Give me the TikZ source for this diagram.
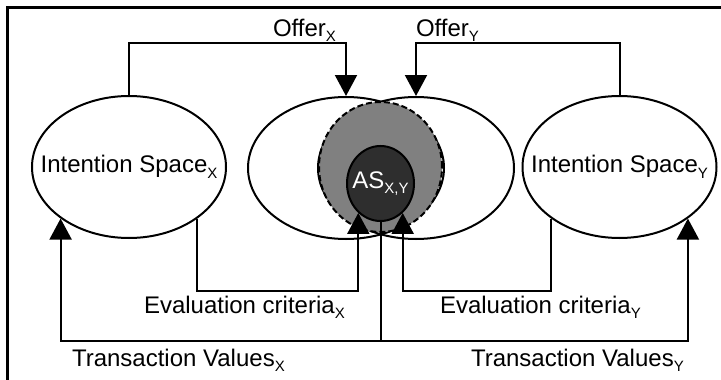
\documentclass[tikz,border=0pt]{standalone}
\usepackage{fontspec}
\setmainfont{Liberation Sans}
\usetikzlibrary{arrows.meta,shapes.geometric}
\definecolor{asfill}{HTML}{2E2E2E}
\definecolor{agfill}{HTML}{808080}
% small index letters set below the baseline
\newcommand{\idx}[1]{\raisebox{-0.24em}{\fontsize{15}{15}\selectfont #1}}

\begin{document}
\begin{tikzpicture}[x=1pt,y=1pt,line width=2pt,
    every node/.style={font=\fontsize{24}{28}\selectfont},
    space/.style={draw,ellipse,inner sep=0pt,minimum width=194pt,minimum height=142pt},
    lbl/.style={anchor=base west,inner sep=0pt},
    arr/.style={-{Triangle[length=21pt,width=22pt]}}]
  \useasboundingbox (0,0) rectangle (721,-380);
  \draw[line width=3pt] (7,-380) -- (7,-7) -- (721,-7);

  % the four spaces
  \node[space] (isx) at (129,-167) {};
  \node[space] (isy) at (619.5,-167) {};
  \node[space,minimum width=196pt] (mx) at (346,-168) {};
  \node[space,minimum width=196pt] (my) at (416,-168) {};
  \node[inner sep=0pt] (isxt) at (isx) {Intention Space\idx{X}};
  \node[inner sep=0pt] (isyt) at (isy) {Intention Space\idx{Y}};

  % agreement area on top
  \node[draw,ellipse,fill=agfill,dash pattern=on 6pt off 3pt,inner sep=0pt,
        minimum width=123pt,minimum height=130pt] (ag) at (380.5,-167) {};
  \node[draw,ellipse,fill=asfill,inner sep=0pt,
        minimum width=67pt,minimum height=75pt] (as) at (380.5,-183.5) {};
  \node[text=white,inner sep=0pt] (ast) at (as) {AS\idx{X,Y}};

  % labels
  \node[lbl] (ofx) at (272,-36) {Offer\idx{X}};
  \node[lbl] (ofy) at (415,-36) {Offer\idx{Y}};
  \node[lbl] (ecx) at (143,-313) {Evaluation criteria\idx{X}};
  \node[lbl] (ecy) at (439,-313) {Evaluation criteria\idx{Y}};
  \node[lbl] (tvx) at (71,-366) {Transaction Values\idx{X}};
  \node[lbl] (tvy) at (470,-366) {Transaction Values\idx{Y}};

  % offers
  \draw[arr] (isx.north) -- ++(0,52) -| (mx.north);
  \draw[arr] (isy.north) -- ++(0,52) -| (my.north);
  % evaluation criteria
  \draw[arr] (isx.-37) -- ++(0,-72) -| (as.233);
  \draw[arr] (isy.217) -- ++(0,-72) -| (as.-53);
  % transaction values
  \draw (as.south) -- ++(0,-119) coordinate (tv);
  \draw[arr] (tv) -| (isx.217);
  \draw[arr] (tv) -| (isy.-37);
\end{tikzpicture}
\end{document}
